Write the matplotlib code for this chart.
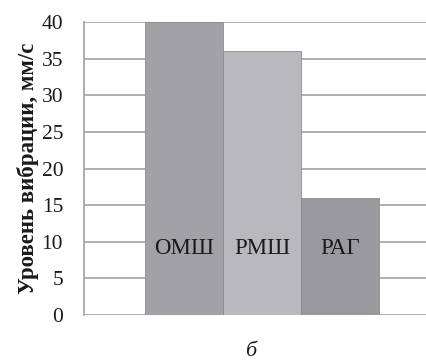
import matplotlib.pyplot as plt

# data
names = ['ОМШ', 'РМШ', 'РАГ']
values = [40, 36, 16]
colors = ['#a2a2a6', '#b9b9bd', '#9a9a9e']
yticks = [0, 5, 10, 15, 20, 25, 30, 35, 40]

plt.rcParams['font.family'] = ['Liberation Serif', 'DejaVu Serif']

fig = plt.figure(figsize=(4.27, 3.62), dpi=100)
ax = fig.add_axes([84 / 427, 1 - 315 / 362, 356 / 427, 293 / 362])

xs = [-1, 0, 1]
ax.bar(xs, values, width=1.0, color=colors, edgecolor='#8c8c90', linewidth=0.6, zorder=3)
for x, n in zip(xs, names):
    ax.text(x, 9.1, n, ha='center', va='center', fontsize=16.5, color='#1a1a1a', zorder=4)

ax.set_xlim(-2.28, 2.28)
ax.set_ylim(0, 40)
ax.set_yticks(yticks)
ax.set_xticks([])
ax.yaxis.grid(True, color='#a8a8a8', linewidth=1.3, zorder=0)
ax.tick_params(axis='y', length=0, labelsize=15.5, pad=15, colors='#1a1a1a')
for s in ['top', 'right', 'bottom']:
    ax.spines[s].set_visible(False)
ax.spines['left'].set_color('#a8a8a8')
ax.spines['left'].set_linewidth(1.3)

ax.set_ylabel('Уровень вибрации, мм/с', fontsize=16.5, fontweight='bold', labelpad=2, color='#1a1a1a')
fig.text(251 / 427, 1 - 351 / 362, 'б', fontsize=16, style='italic', ha='center', va='center', color='#1a1a1a')

fig.savefig('out.png', dpi=100)
